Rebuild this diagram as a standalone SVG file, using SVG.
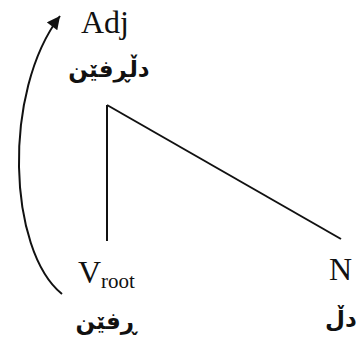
<svg xmlns="http://www.w3.org/2000/svg" width="356" height="342" viewBox="0 0 356 342">
<style>
.lat{font-family:"Liberation Serif","Times New Roman",serif;fill:#111}
.ku{font-family:"DejaVu Sans","Noto Sans",sans-serif;font-weight:bold;fill:#111}
.ln{stroke:#111;stroke-width:2;fill:none}
</style>
<defs>
<marker id="ah" viewBox="0 0 10 10" refX="10" refY="5" markerWidth="7.5" markerHeight="6.5" orient="auto" markerUnits="strokeWidth">
<path d="M0,0 L10,5 L0,10 z" fill="#111"/>
</marker>
</defs>
<rect width="356" height="342" fill="#fff"/>
<g id="connectors">
<path class="ln" d="M107,105 L107,241"/>
<path class="ln" d="M107,105 L341,239"/>
<path class="ln" d="M62,294 C8,250 2,92 60,16" marker-end="url(#ah)"/>
</g>
<g id="adj">
<text class="lat" x="81" y="33" font-size="32">Adj</text>
<text class="ku" x="109" y="77" font-size="23" text-anchor="middle" direction="rtl">دڵڕفێن</text>
</g>
<g id="vroot">
<text class="lat" x="78" y="283" font-size="32">V<tspan font-size="21" dy="5">root</tspan></text>
<text class="ku" x="106" y="329" font-size="23" text-anchor="middle" direction="rtl">ڕفێن</text>
</g>
<g id="n">
<text class="lat" x="329" y="280" font-size="32">N</text>
<text class="ku" x="341" y="327" font-size="23" text-anchor="middle" direction="rtl">دڵ</text>
</g>
</svg>
